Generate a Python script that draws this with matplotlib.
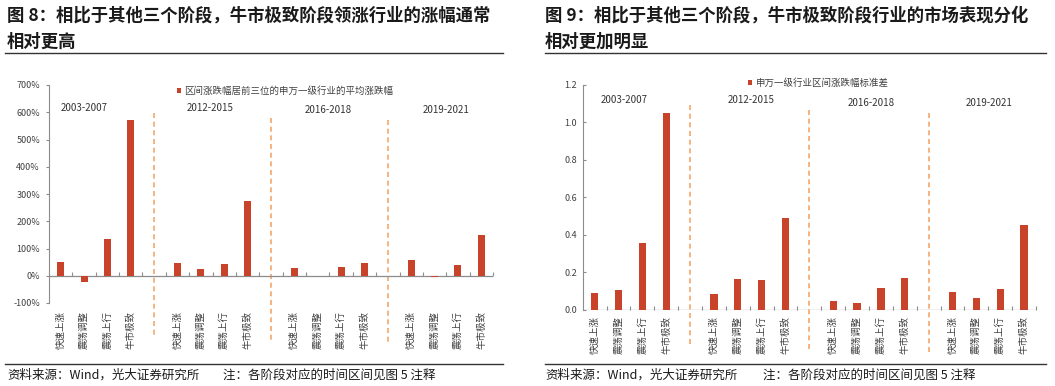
import matplotlib
matplotlib.use("Agg")
import matplotlib.pyplot as plt
from matplotlib.lines import Line2D
from matplotlib.patches import Patch
from matplotlib.ticker import FuncFormatter, MultipleLocator

plt.rcParams['font.family'] = ['Noto Sans CJK SC', 'DejaVu Sans']
plt.rcParams['axes.unicode_minus'] = False

# ---------------- data ----------------
periods = ['2003-2007', '2012-2015', '2016-2018', '2019-2021']
stages = ['快速上涨', '震荡调整', '震荡上行', '牛市极致']

# Fig 8: average return of top-3 SW level-1 industries (%)
gain_2003_2007 = [52, -24, 136, 570]
gain_2012_2015 = [48, 25, 43, 274]
gain_2016_2018 = [29, -2, 32, 45]
gain_2019_2021 = [59, -3, 41, 148]

# Fig 9: std of SW level-1 industry returns
std_2003_2007 = [0.086, 0.102, 0.357, 1.047]
std_2012_2015 = [0.081, 0.162, 0.157, 0.491]
std_2016_2018 = [0.044, 0.033, 0.113, 0.166]
std_2019_2021 = [0.091, 0.063, 0.107, 0.452]

title_left_1 = '图 8：相比于其他三个阶段，牛市极致阶段领涨行业的涨幅通常'
title_left_2 = '相对更高'
title_right_1 = '图 9：相比于其他三个阶段，牛市极致阶段行业的市场表现分化'
title_right_2 = '相对更加明显'
legend_left = '区间涨跌幅居前三位的申万一级行业的平均涨跌幅'
legend_right = '申万一级行业区间涨跌幅标准差'
source_text = '资料来源：Wind，光大证券研究所'
note_text = '注：各阶段对应的时间区间见图 5 注释'

BAR = '#C9432A'
DASH = '#F5A66B'
AX = '#8C8C8C'
TXT = '#404040'

gains = [gain_2003_2007, gain_2012_2015, gain_2016_2018, gain_2019_2021]
stds = [std_2003_2007, std_2012_2015, std_2016_2018, std_2019_2021]

n_groups = len(periods)
n_stage = len(stages)
slot = n_stage + 1
xpos, xlab = [], []
for g in range(n_groups):
    for k in range(n_stage):
        xpos.append(g * slot + k)
        xlab.append(stages[k])
n_cat = n_groups * slot - 1
seps = [g * slot + n_stage for g in range(n_groups - 1)]

fig = plt.figure(figsize=(10.55, 3.86), dpi=100)


def panel(rect, values, ylim, major, fmt, tickdir, label_pad, sep_ranges,
          period_pos, legend_txt, legend_xy, bw):
    ax = fig.add_axes(rect)
    flat = [v for grp in values for v in grp]
    ax.bar(xpos, flat, width=bw, color=BAR, zorder=3)
    ax.set_xlim(-0.5, n_cat - 0.5)
    ax.set_ylim(*ylim)
    ax.yaxis.set_major_locator(MultipleLocator(major))
    ax.yaxis.set_major_formatter(FuncFormatter(fmt))
    for s in ['top', 'right', 'bottom']:
        ax.spines[s].set_visible(False)
    ax.spines['left'].set_color(AX)
    ax.spines['left'].set_linewidth(0.8)
    ax.tick_params(axis='y', direction=tickdir, length=2.5, width=0.8,
                   color=AX, labelsize=6.5, labelcolor=TXT, pad=4)
    ax.set_xticks(xpos)
    ax.set_xticklabels(xlab, rotation=90, fontsize=6.8, color=TXT, va='top')
    ax.tick_params(axis='x', length=0, pad=label_pad)
    ax.axhline(0, color=AX, lw=0.9, zorder=2)
    bounds = [i + 0.5 for i in range(n_cat - 1)] + [n_cat - 0.5]
    ax.plot(bounds, [0] * len(bounds), linestyle='none', marker=2,
            markersize=3, markeredgewidth=0.8, color=AX, zorder=2,
            clip_on=False)
    tr = ax.get_xaxis_transform()
    for sx, (y0, y1) in zip(seps, sep_ranges):
        ax.plot([sx, sx], [y0, y1], transform=tr, color=DASH, lw=1.2,
                linestyle=(0, (3, 2.2)), clip_on=False, zorder=1)
    for p, (px, py) in zip(periods, period_pos):
        ax.text(px, py, p, transform=tr, ha='center', va='center',
                fontsize=7, color='#333333')
    h = Patch(facecolor=BAR, edgecolor='none')
    fig.legend([h], [legend_txt], loc='center left', bbox_to_anchor=legend_xy,
               frameon=False, fontsize=6.8, handlelength=0.45,
               handleheight=0.45, handletextpad=0.35, borderpad=0,
               borderaxespad=0, labelcolor=TXT)
    return ax


panel([49 / 1055, 1 - 303 / 386, 444 / 1055, 218 / 386], gains,
      (-100, 700), 100, lambda v, p: f'{v:.0f}%', 'out', 5.5,
      [(0.872, -0.156), (0.849, -0.179), (0.839, -0.183)],
      [(1.0, 0.894), (6.39, 0.894), (11.44, 0.885), (16.49, 0.885)],
      legend_left, (177 / 1055, 1 - 91 / 386), 0.3)

panel([582.7 / 1055, 1 - 309.5 / 386, 453.3 / 1055, 224.8 / 386], stds,
      (0, 1.2), 0.2, lambda v, p: f'{v:.1f}', 'in', 5,
      [(0.91, -0.163), (0.888, -0.178), (0.876, -0.2)],
      [(1.23, 0.932), (6.55, 0.932), (11.58, 0.919), (16.53, 0.919)],
      legend_right, (748 / 1055, 1 - 82.7 / 386), 0.31)

# titles
for x0, t1, t2 in [(7, title_left_1, title_left_2),
                   (545, title_right_1, title_right_2)]:
    fig.text(x0 / 1055, 1 - 16 / 386, t1, fontsize=12.5, fontweight='bold',
             color='#1a1a1a', va='center', ha='left')
    fig.text(x0 / 1055, 1 - 42 / 386, t2, fontsize=12.5, fontweight='bold',
             color='#1a1a1a', va='center', ha='left')

# separator lines
for x0, x1 in [(5, 503), (545, 1046)]:
    for yy in [53.3, 364.3]:
        fig.add_artist(Line2D([x0 / 1055, x1 / 1055], [1 - yy / 386] * 2,
                              color='#333333', lw=1.0))

# footers
for x0, xn in [(7, 223), (545, 763)]:
    fig.text(x0 / 1055, 1 - 375 / 386, source_text, fontsize=9,
             color='#1a1a1a', va='center', ha='left')
    fig.text(xn / 1055, 1 - 375 / 386, note_text, fontsize=9,
             color='#1a1a1a', va='center', ha='left')

fig.savefig('out.png', dpi=100)
